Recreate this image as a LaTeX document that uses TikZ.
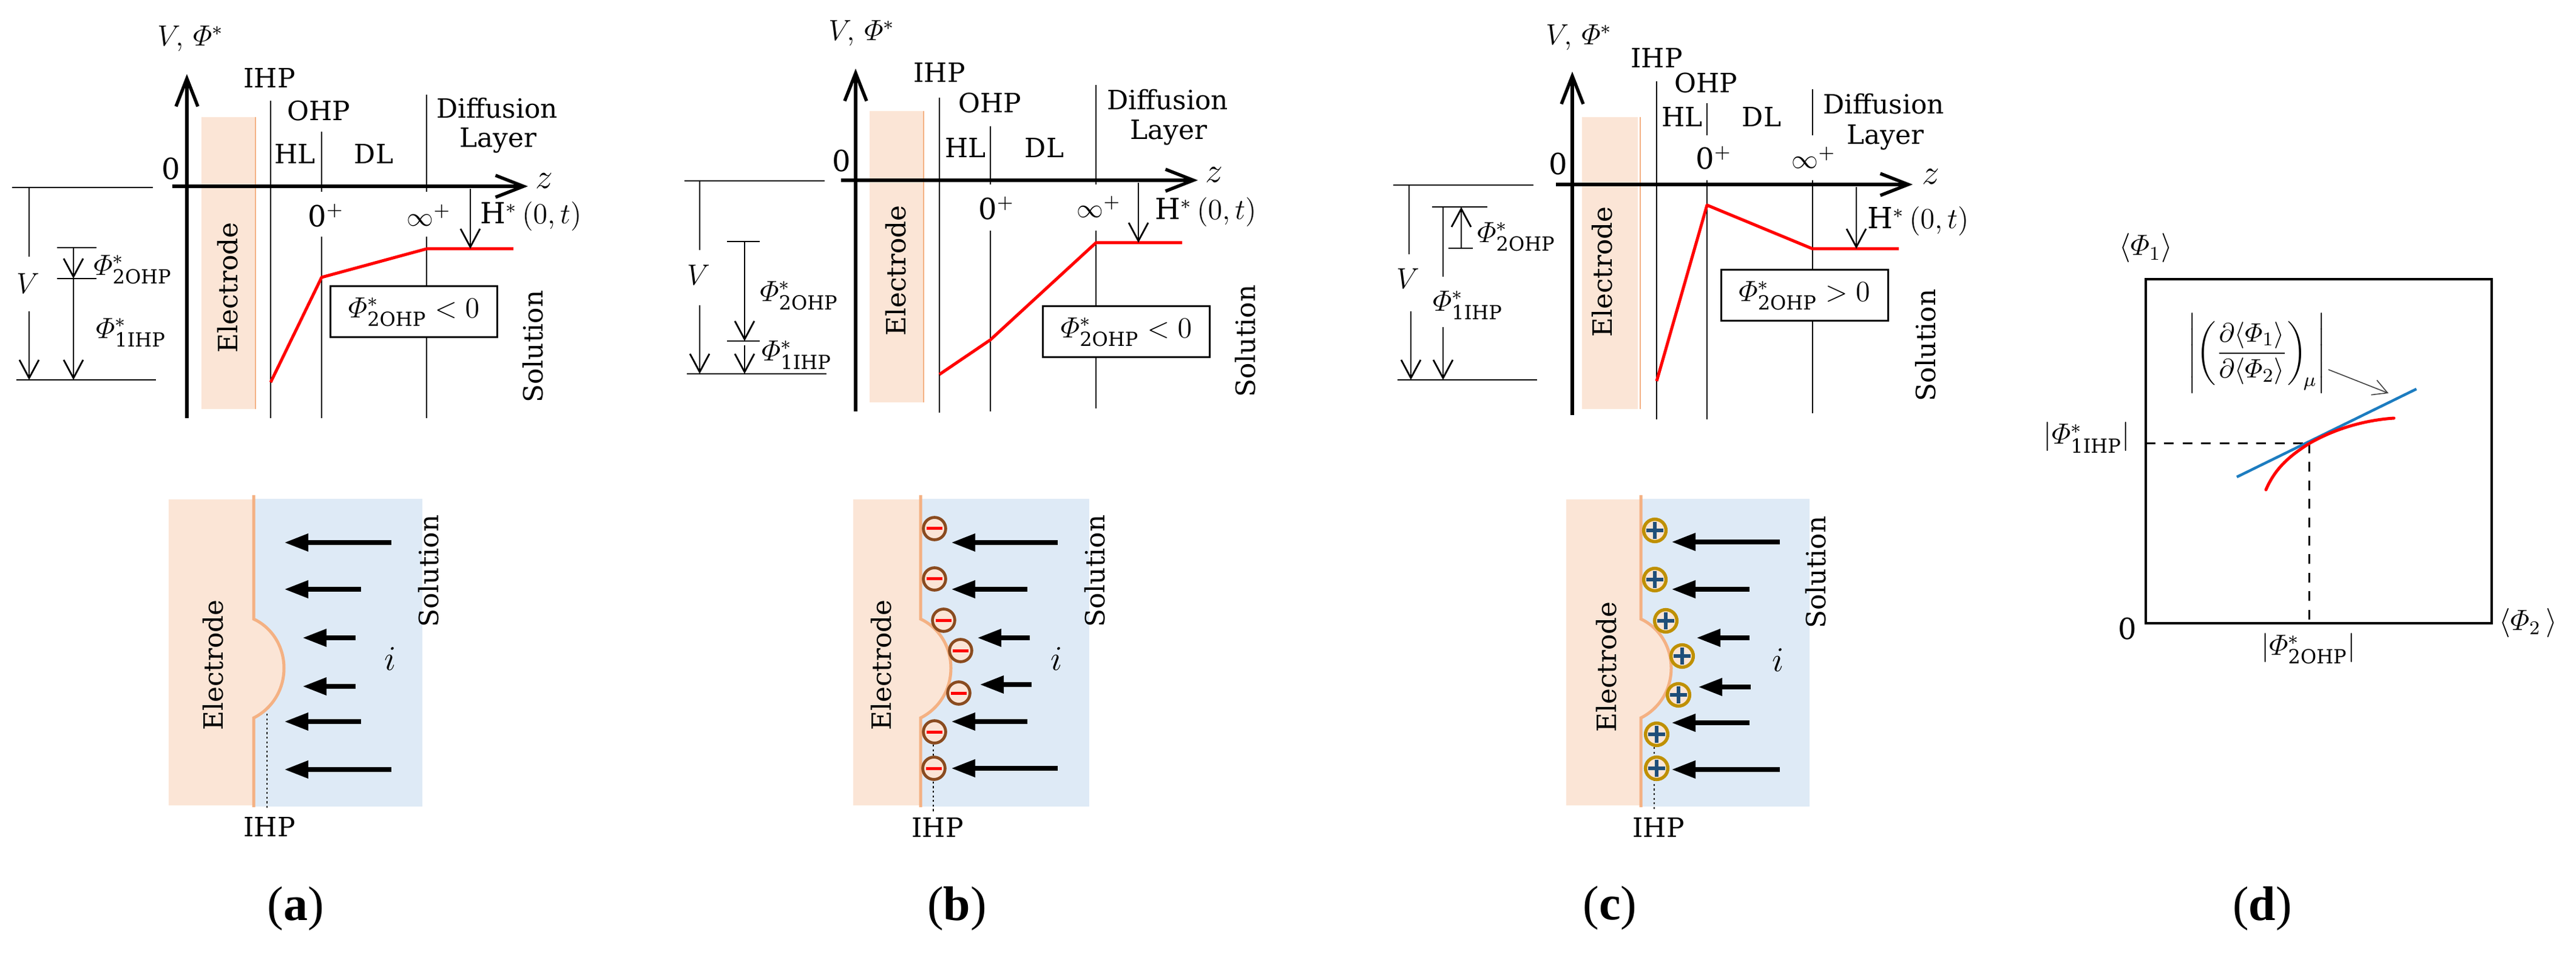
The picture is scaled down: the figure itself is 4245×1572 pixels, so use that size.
\documentclass[tikz,border=0pt]{standalone}
\usepackage{amsmath}
\usepackage{graphicx}
\usepackage{fontspec}
\setmainfont{DejaVu Serif}
\newfontfamily\capfont{Liberation Serif}
\usetikzlibrary{arrows.meta}
\definecolor{elec}{HTML}{FBE5D6}
\definecolor{elecline}{HTML}{F4B183}
\definecolor{soln}{HTML}{DEEAF6}
\definecolor{ringb}{HTML}{8A4B1F}
\definecolor{ringg}{HTML}{BF9000}
\definecolor{plusb}{HTML}{1F4E79}
\definecolor{tang}{HTML}{1C7CC0}
\newcommand{\PhiO}{$\varPhi^{*}_{\mathrm{2OHP}}$}
\newcommand{\PhiI}{$\varPhi^{*}_{\mathrm{1IHP}}$}
\tikzset{
  x=0.25pt,y=-0.25pt,
  every node/.style={inner sep=0pt,font=\fontsize{10.95}{13}\selectfont,text=black},
  rottext/.style={rotate=90,font=\fontsize{10.95}{13}\selectfont},
  bigtext/.style={font=\fontsize{12}{14}\selectfont},
  hugetext/.style={font=\fontsize{14.4}{16}\selectfont},
  captext/.style={font=\capfont\fontsize{20}{24}\selectfont,text=black},
  ln/.style={line width=.7pt,draw=black},
  axisarrow/.style={line width=1.35pt,draw=black,-{Straight Barb[length=11.5pt,width=9pt,line width=1.35pt]}},
  darr/.style={line width=.7pt,draw=black,-{Straight Barb[length=7.5pt,width=8pt,line width=.7pt]}},
  redcurve/.style={line width=1.25pt,draw=red,line join=round},
  band/.style={fill=elec,draw=none},
  bandedge/.style={line width=.35pt,draw=elecline},
  surf/.style={line width=1.25pt,draw=elecline},
  flow/.style={line width=2.2pt,draw=black,-{Triangle[length=10pt,width=6.8pt]}},
  ihpdots/.style={line width=.7pt,draw=black,dash pattern=on .8pt off 1.1pt},
  boxed/.style={draw=black,line width=.75pt,fill=white,minimum width=68.75pt,minimum height=21pt,font=\fontsize{12}{14}\selectfont},
  negion/.style={circle,fill=elec,draw=ringb,line width=1.2pt,minimum size=9.2pt,
    path picture={\fill[red] (-13,-2.5) rectangle (13,2.5);}},
  posion/.style={circle,fill=elec,draw=ringg,line width=1.35pt,minimum size=9.2pt,
    path picture={\fill[plusb] (-14,-3) rectangle (14,3);\fill[plusb] (-3,-14) rectangle (3,14);}},
  tangent/.style={line width=1.1pt,draw=tang},
  dashln/.style={line width=.75pt,draw=black,dash pattern=on 4pt off 3.6pt},
}
% lower panels: #1 surface x, #2 electrode width
\newcommand{\lowerpanel}[2]{%
  \begin{scope}[xshift=#1*0.25pt]
    \fill[soln] (2,822) rectangle (278,1329);
    \fill[elec] (-#2,823) -- (0,823) -- (0,1020) .. controls (30,1034) and (50,1065) .. (50,1101)
       .. controls (50,1137) and (30,1168) .. (0,1183) -- (0,1327) -- (-#2,1327) -- cycle;
    \draw[surf] (0,816) -- (0,1020) .. controls (30,1034) and (50,1065) .. (50,1101)
       .. controls (50,1137) and (30,1168) .. (0,1183) -- (0,1330);
  \end{scope}}
\begin{document}
\begin{tikzpicture}
\useasboundingbox (0,0) rectangle (4245,1572);
\fill[white] (0,0) rectangle (4245,1572);

%%%%%%%%%% (a) upper
\fill[band] (332,193) rectangle (420,674);
\draw[bandedge] (421,193) -- (421,674);
\draw[ln] (446,166) -- (446,689);
\draw[ln] (530,217) -- (530,316);
\draw[ln] (530,390) -- (530,689);
\draw[ln] (703,156) -- (703,316);
\draw[ln] (703,390) -- (703,689);
\draw[axisarrow] (308,689) -- (308,122);
\draw[axisarrow] (284,307) -- (870,307);
\node[rottext] (aE) at (375,474) {Electrode};
\node[rottext] (aS) at (878,571) {Solution};
\node[hugetext] (az) at (897,298) {$z$};
\node[bigtext] (a0) at (282,278) {0};
\node[bigtext] (aV0) at (314,64) {$V,\,\varPhi^{*}$};
\node (aIHP) at (444,129) {IHP};
\node (aOHP) at (525,183) {OHP};
\node (aDif) at (819,178) {Diffusion};
\node (aLay) at (821,231) {Layer};
\node (aHL) at (486,254) {HL};
\node (aDL) at (616,254) {DL};
\node[bigtext] (a0p) at (537,355) {0$^{+}$};
\node (aIp) at (707,355) {$\infty^{+}$};
\node[bigtext] (aH) at (875,357) {H$^{*}\,(0,t)$};
\draw[redcurve] (446,630) -- (530,457) -- (703,410) -- (846,410);
\draw[darr] (775,311) -- (775,410);
\node[boxed] (aB) at (682,514) {\PhiO${}<0$};
\draw[ln] (20,309) -- (252,309);
\draw[ln] (27,626) -- (257,626);
\draw[ln] (48,309) -- (48,423);
\draw[darr] (48,513) -- (48,626);
\node[bigtext] (aV) at (46,467) {$V$};
\draw[ln] (94,408) -- (159,408);
\draw[ln] (94,459) -- (159,459);
\draw[darr] (121,408) -- (121,459);
\draw[darr] (121,459) -- (121,626);
\node[bigtext] (aP2) at (219,444) {\PhiO};
\node[bigtext] (aP1) at (216,548) {\PhiI};

%%%%%%%%%% (b) upper
\fill[band] (1433,183) rectangle (1521,663);
\draw[bandedge] (1522,183) -- (1522,663);
\draw[ln] (1548,161) -- (1548,680);
\draw[ln] (1632,208) -- (1632,304);
\draw[ln] (1632,380) -- (1632,678);
\draw[ln] (1806,140) -- (1806,304);
\draw[ln] (1806,380) -- (1806,673);
\draw[axisarrow] (1410,678) -- (1410,113);
\draw[axisarrow] (1386,297) -- (1974,297);
\node[rottext] (bE) at (1476,446) {Electrode};
\node[rottext] (bS) at (2052,562) {Solution};
\node[hugetext] (bz) at (2001,288) {$z$};
\node[bigtext] (b0) at (1387,265) {0};
\node[bigtext] (bV0) at (1420,55) {$V,\,\varPhi^{*}$};
\node (bIHP) at (1548,120) {IHP};
\node (bOHP) at (1631,170) {OHP};
\node (bDif) at (1924,164) {Diffusion};
\node (bLay) at (1926,218) {Layer};
\node (bHL) at (1591,244) {HL};
\node (bDL) at (1721,244) {DL};
\node[bigtext] (b0p) at (1642,343) {0$^{+}$};
\node (bIp) at (1811,341) {$\infty^{+}$};
\node[bigtext] (bH) at (1987,350) {H$^{*}\,(0,t)$};
\draw[redcurve] (1548,617) -- (1632,560) -- (1806,400) -- (1948,400);
\draw[darr] (1876,301) -- (1876,400);
\node[boxed] (bB) at (1856,547) {\PhiO${}<0$};
\draw[ln] (1128,298) -- (1359,298);
\draw[ln] (1132,616) -- (1362,616);
\draw[ln] (1153,298) -- (1153,412);
\draw[darr] (1153,503) -- (1153,616);
\node[bigtext] (bV) at (1151,453) {$V$};
\draw[ln] (1198,398) -- (1252,398);
\draw[ln] (1198,562) -- (1252,562);
\draw[darr] (1227,398) -- (1227,562);
\draw[darr] (1227,569) -- (1227,616);
\node[bigtext] (bP2) at (1317,487) {\PhiO};
\node[bigtext] (bP1) at (1313,585) {\PhiI};

%%%%%%%%%% (c) upper
\fill[band] (2607,193) rectangle (2699,674);
\draw[bandedge] (2703,193) -- (2703,674);
\draw[ln] (2730,134) -- (2730,691);
\draw[ln] (2813,170) -- (2813,223);
\draw[ln] (2813,297) -- (2813,691);
\draw[ln] (2987,147) -- (2987,223);
\draw[ln] (2987,297) -- (2987,681);
\draw[axisarrow] (2591,684) -- (2591,118);
\draw[axisarrow] (2564,304) -- (3152,304);
\node[rottext] (cE) at (2640,448) {Electrode};
\node[rottext] (cS) at (3173,569) {Solution};
\node[hugetext] (cz) at (3182,291) {$z$};
\node[bigtext] (c0) at (2568,270) {0};
\node[bigtext] (cV0) at (2602,62) {$V,\,\varPhi^{*}$};
\node (cIHP) at (2730,96) {IHP};
\node (cOHP) at (2811,137) {OHP};
\node (cDif) at (3104,171) {Diffusion};
\node (cLay) at (3107,226) {Layer};
\node (cHL) at (2772,193) {HL};
\node (cDL) at (2903,193) {DL};
\node[bigtext] (c0p) at (2824,260) {0$^{+}$};
\node (cIp) at (2989,260) {$\infty^{+}$};
\node[bigtext] (cH) at (3161,365) {H$^{*}\,(0,t)$};
\draw[redcurve] (2730,628) -- (2813,338) -- (2987,410) -- (3129,410);
\draw[darr] (3059,308) -- (3059,410);
\node[boxed] (cB) at (2973.5,487) {\PhiO${}>0$};
\draw[ln] (2296,305) -- (2527,305);
\draw[ln] (2303,626) -- (2533,626);
\draw[ln] (2322,305) -- (2322,419);
\draw[darr] (2325,513) -- (2325,626);
\node[bigtext] (cV) at (2320,459) {$V$};
\draw[ln] (2360,341) -- (2451,341);
\draw[ln] (2378,341) -- (2378,456);
\draw[darr] (2378,539) -- (2378,626);
\draw[ln] (2387,409) -- (2427,409);
\draw[darr] (2408,409) -- (2408,341);
\node[bigtext] (cP2) at (2499,390) {\PhiO};
\node[bigtext] (cP1) at (2419,503) {\PhiI};

%%%%%%%%%% lower panels
\lowerpanel{418}{140}
\lowerpanel{1517}{111}
\lowerpanel{2704}{123}

% (a) lower
\foreach \tl/\tp/\yy in {645/468/894,595/468/971,586/498/1051,586/498/1131,595/468/1189,645/468/1268}
  \draw[flow] (\tl,\yy) -- (\tp,\yy);
\draw[ihpdots] (440,1176) -- (440,1333);
\node (alI) at (444,1363) {IHP};
\node[rottext] (alE) at (351,1096) {Electrode};
\node[rottext] (alS) at (706,941) {Solution};
\node[hugetext] (ali) at (643,1086) {$i$};
\node[captext] (capa) at (487,1497) {(\textbf{a})};

% (b) lower
\foreach \tl/\tp/\yy in {1743/1567/894,1693/1567/971,1697/1610/1051,1700/1614/1128,1693/1567/1189,1743/1567/1266}
  \draw[flow] (\tl,\yy) -- (\tp,\yy);
\draw[ihpdots] (1538,1227) -- (1538,1338);
\foreach \n/\px/\py in {1/1540/871,2/1540/954,3/1555/1022,4/1583/1072,5/1580/1142,6/1540/1206,7/1539/1266}
  \node[negion] (bion\n) at (\px,\py) {};
\node (blI) at (1545,1364) {IHP};
\node[rottext] (blE) at (1452,1096) {Electrode};
\node[rottext] (blS) at (1804,941) {Solution};
\node[hugetext] (bli) at (1741,1086) {$i$};
\node[captext] (capb) at (1577,1497) {(\textbf{b})};

% (c) lower
\foreach \tl/\tp/\yy in {2933/2754/893,2883/2754/971,2883/2795/1051,2885/2798/1132,2883/2754/1191,2933/2754/1268}
  \draw[flow] (\tl,\yy) -- (\tp,\yy);
\draw[ihpdots] (2726,1231) -- (2726,1336);
\foreach \n/\px/\py in {1/2727/874,2/2727/955,3/2745/1023,4/2772/1081,5/2766/1145,6/2730/1210,7/2730/1266}
  \node[posion] (cion\n) at (\px,\py) {};
\node (clI) at (2733,1364) {IHP};
\node[rottext] (clE) at (2647,1099) {Electrode};
\node[rottext] (clS) at (2992,943) {Solution};
\node[hugetext] (cli) at (2930,1088) {$i$};
\node[captext] (capc) at (2653,1496) {(\textbf{c})};

%%%%%%%%%% (d)
\draw[line width=.8pt,draw=black] (3536,460) rectangle (4106,1027);
\draw[dashln] (3536,731) -- (3805,731);
\draw[dashln] (3805,731) -- (3805,1027);
\draw[tangent] (3686,786) -- (3982,641);
\draw[redcurve,line cap=round] (3734,807) .. controls (3750,770) and (3775,750) .. (3805,731)
   .. controls (3850,705) and (3900,692) .. (3945,689);
\draw[line width=.4pt,draw=black!75,-{Straight Barb[length=6pt,width=6.5pt,line width=.4pt]}] (3837,609) -- (3936,648);
\node (dF) at (3719,582) {$\left|\left(\dfrac{\partial\langle\varPhi_{1}\rangle}{\partial\langle\varPhi_{2}\rangle}\right)_{\!\mu}\right|$};
\node[bigtext] (dP1) at (3536,409) {$\langle\varPhi_{1}\rangle$};
\node[bigtext] (dI) at (3439,721) {$|\varPhi^{*}_{\mathrm{1IHP}}|$};
\node[bigtext] (d0) at (3506,1036) {0};
\node[bigtext] (dO) at (3804,1069) {$|\varPhi^{*}_{\mathrm{2OHP}}|$};
\node[bigtext] (dP2) at (4166,1026) {$\langle\varPhi_{2}\,\rangle$};
\node[captext] (capd) at (3728,1497) {(\textbf{d})};
\end{tikzpicture}
\end{document}
